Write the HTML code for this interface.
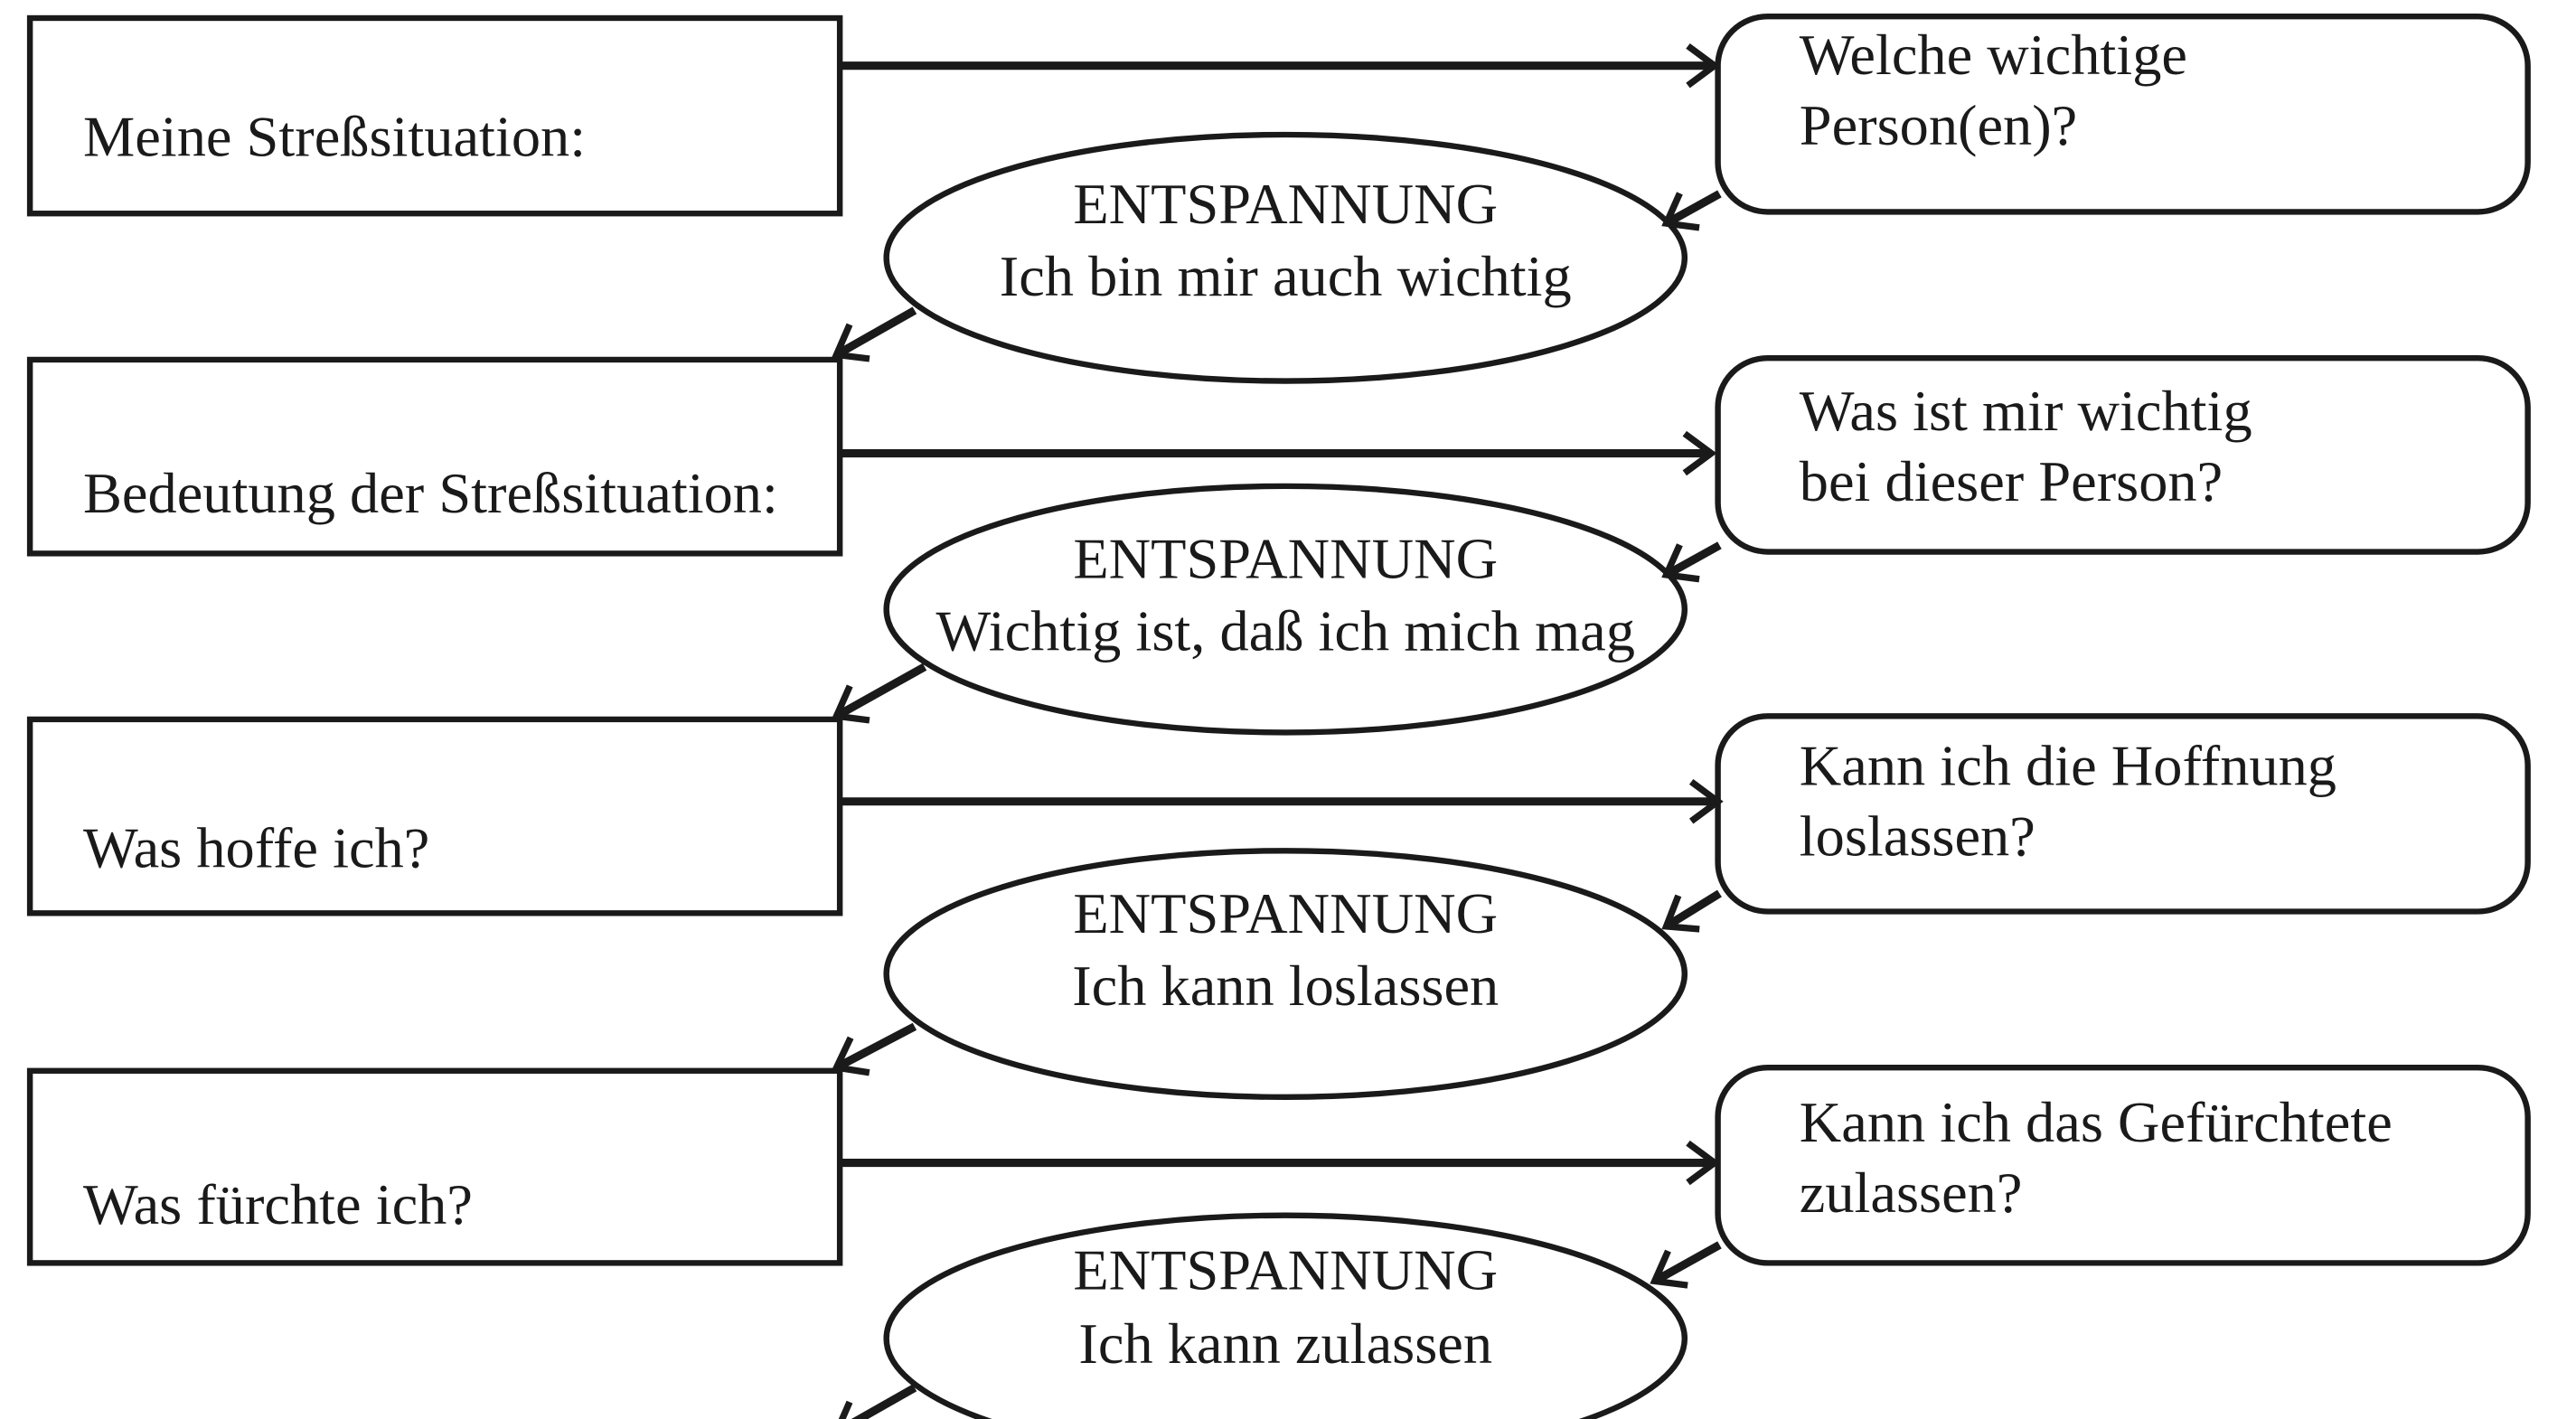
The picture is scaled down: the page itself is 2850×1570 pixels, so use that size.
<!DOCTYPE html>
<html><head><meta charset="utf-8"><style>
html,body{margin:0;padding:0;background:#fff;}
svg{display:block;}
text{font-family:"Liberation Serif",serif;fill:#1a1a1a;}
</style></head><body>
<svg width="2850" height="1570" viewBox="0 0 1549 864" preserveAspectRatio="none" xmlns="http://www.w3.org/2000/svg">
<defs>
<marker id="a" markerUnits="userSpaceOnUse" markerWidth="30" markerHeight="30" refX="22" refY="15" orient="auto" viewBox="0 0 30 30">
<path d="M6 3 L22 15 L6 27" fill="none" stroke="#1a1a1a" stroke-width="4"/>
</marker>
</defs>
<g fill="none" stroke="#1a1a1a" stroke-width="3.5">
<rect x="18" y="11" width="487" height="119"/>
<rect x="18" y="219" width="487" height="118"/>
<rect x="18" y="438" width="487" height="118"/>
<rect x="18" y="652" width="487" height="117"/>
<rect x="1033" y="10" width="487" height="119" rx="30"/>
<rect x="1033" y="218" width="487" height="118" rx="30"/>
<rect x="1033" y="436" width="487" height="119" rx="30"/>
<rect x="1033" y="650" width="487" height="119" rx="30"/>
<ellipse cx="773" cy="157" rx="240" ry="75"/>
<ellipse cx="773" cy="371" rx="240" ry="75"/>
<ellipse cx="773" cy="593" rx="240" ry="75"/>
<ellipse cx="773" cy="815" rx="240" ry="75"/>
</g>
<g stroke="#1a1a1a" stroke-width="5" fill="none" marker-end="url(#a)">
<line x1="505" y1="40" x2="1031" y2="40"/>
<line x1="505" y1="276" x2="1029" y2="276"/>
<line x1="505" y1="488" x2="1033" y2="488"/>
<line x1="505" y1="708" x2="1031" y2="708"/>
<line x1="1034" y1="118" x2="1002" y2="136"/>
<line x1="1034" y1="332" x2="1002" y2="350"/>
<line x1="1034" y1="544" x2="1002" y2="564"/>
<line x1="1034" y1="758" x2="995" y2="780"/>
<line x1="550" y1="189" x2="503" y2="216"/>
<line x1="556" y1="406" x2="503" y2="436"/>
<line x1="550" y1="625" x2="503" y2="650"/>
<line x1="550" y1="845" x2="503" y2="872"/>
</g>
<g font-size="35">
<text x="50" y="95">Meine Streßsituation:</text>
<text x="50" y="312">Bedeutung der Streßsituation:</text>
<text x="50" y="528">Was hoffe ich?</text>
<text x="50" y="745">Was fürchte ich?</text>
<text x="1082" y="45">Welche wichtige</text>
<text x="1082" y="88">Person(en)?</text>
<text x="1082" y="262">Was ist mir wichtig</text>
<text x="1082" y="305">bei dieser Person?</text>
<text x="1082" y="478">Kann ich die Hoffnung</text>
<text x="1082" y="521">loslassen?</text>
<text x="1082" y="695">Kann ich das Gefürchtete</text>
<text x="1082" y="738">zulassen?</text>
</g>
<g font-size="35" text-anchor="middle">
<text x="773" y="136">ENTSPANNUNG</text>
<text x="773" y="180">Ich bin mir auch wichtig</text>
<text x="773" y="352">ENTSPANNUNG</text>
<text x="773" y="396">Wichtig ist, daß ich mich mag</text>
<text x="773" y="568">ENTSPANNUNG</text>
<text x="773" y="612">Ich kann loslassen</text>
<text x="773" y="785">ENTSPANNUNG</text>
<text x="773" y="830">Ich kann zulassen</text>
</g>
</svg>
</body></html>
